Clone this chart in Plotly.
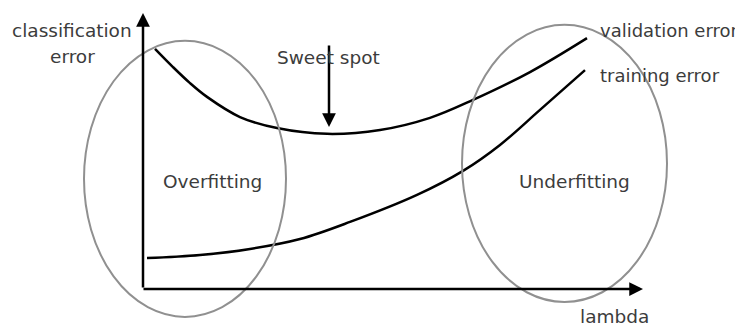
import plotly.graph_objects as go

# Conceptual data (lambda on x, classification error on y)
train_lambda = [0.08, 1.14, 2.14, 3.14, 4.14, 5.48, 6.40, 7.14, 7.94, 8.84]
train_error = [0.112, 0.123, 0.145, 0.181, 0.243, 0.341, 0.428, 0.522, 0.649, 0.793]

val_lambda = [0.24, 0.60, 0.94, 1.28, 1.94, 2.68, 3.68, 4.74, 5.74, 6.60, 7.74, 8.88]
val_error = [0.870, 0.804, 0.746, 0.696, 0.623, 0.583, 0.562, 0.576, 0.620, 0.685, 0.786, 0.909]

x_max = 10.0
y_max = 1.0

TEXT = "#3c3c3c"
GRAY = "#909090"
FONT = "DejaVu Sans"
FS = 18.5

fig = go.Figure()

fig.add_trace(go.Scatter(x=val_lambda, y=val_error, mode="lines",
                         line=dict(color="black", width=2.5, shape="spline", smoothing=1.0),
                         hoverinfo="skip", showlegend=False))
fig.add_trace(go.Scatter(x=train_lambda, y=train_error, mode="lines",
                         line=dict(color="black", width=2.5, shape="spline", smoothing=1.0),
                         hoverinfo="skip", showlegend=False))

# ellipses
fig.add_shape(type="circle", xref="x", yref="y", x0=-1.18, x1=2.86, y0=-0.101, y1=0.899,
              line=dict(color=GRAY, width=2))
fig.add_shape(type="circle", xref="x", yref="y", x0=6.38, x1=10.48, y0=-0.047, y1=0.957,
              line=dict(color=GRAY, width=2))

# axes with arrows
arrow = dict(showarrow=True, text="", arrowhead=2, arrowsize=1.1, arrowwidth=2.5,
             arrowcolor="black", axref="x", ayref="y", xref="x", yref="y", standoff=0)
fig.add_annotation(x=0, y=y_max, ax=0, ay=0, **arrow)
fig.add_annotation(x=x_max, y=0, ax=-0.02, ay=0, **arrow)
fig.add_annotation(x=3.72, y=0.587, ax=3.72, ay=0.888, **arrow)

def label(text, x, y, xanchor="center", size=FS):
    fig.add_annotation(x=x, y=y, text=text, showarrow=False, xref="x", yref="y",
                       xanchor=xanchor, yanchor="middle",
                       font=dict(family=FONT, size=size, color=TEXT))

label("classification", -1.43, 0.935)
label("error", -1.42, 0.841)
label("validation error", 9.10, 0.935, "left", 18)
label("training error", 9.10, 0.772, "left", 18)
label("Sweet spot", 3.70, 0.84)
label("Overfitting", 1.39, 0.391)
label("Underfitting", 8.62, 0.391)
label("lambda", 9.42, -0.098)

# page body has an 8px margin: the figure covers page pixels 8..743 x 8..326
fig.update_layout(
    width=735, height=318,
    margin=dict(l=0, r=0, t=0, b=0),
    paper_bgcolor="white", plot_bgcolor="white",
    xaxis=dict(range=[-2.70, 12.0], visible=False, fixedrange=True),
    yaxis=dict(range=[-0.134, 1.018], visible=False, fixedrange=True),
    showlegend=False,
)

fig.write_html("out.html")
